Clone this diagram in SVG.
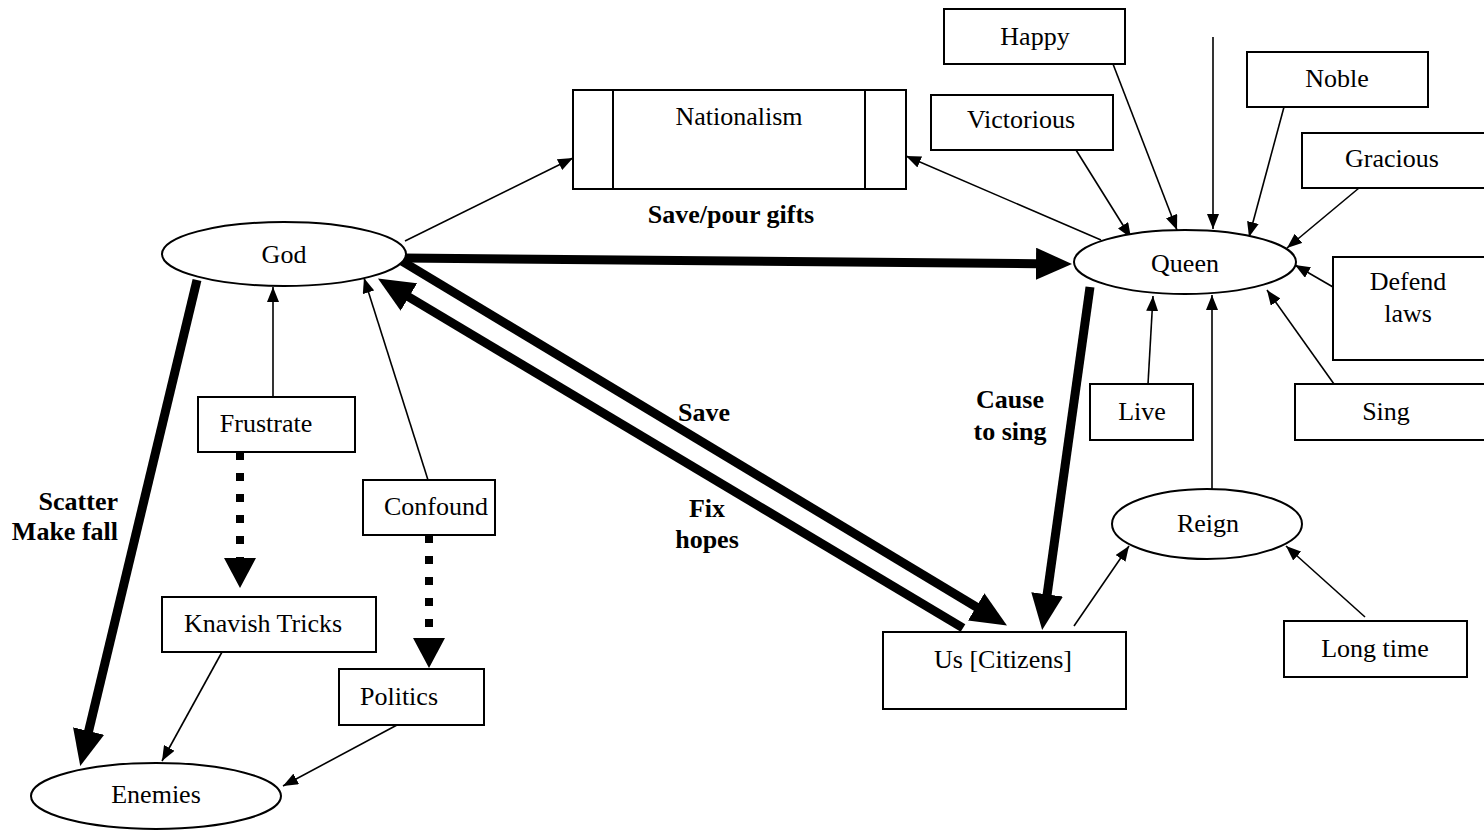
<svg xmlns="http://www.w3.org/2000/svg" width="1484" height="830" viewBox="0 0 1484 830">
<style>
.box{fill:#fff;stroke:#000;stroke-width:2}
.t{font-family:'Liberation Serif','DejaVu Serif',serif;font-size:26px;fill:#000;text-anchor:middle}
.b{font-family:'Liberation Serif','DejaVu Serif',serif;font-size:26px;font-weight:bold;fill:#000;text-anchor:middle}
.e{text-anchor:end}
.thin{stroke:#000;stroke-width:1.6;fill:none;marker-end:url(#ah)}
.thick{stroke:#000;stroke-width:9;fill:none;marker-end:url(#ahb)}
.dot{stroke:#000;stroke-width:8;fill:none;stroke-dasharray:8 13;marker-end:url(#ahd)}
</style>
<defs>
<marker id="ah" markerUnits="userSpaceOnUse" markerWidth="15" markerHeight="12" refX="15" refY="6" orient="auto" viewBox="0 0 15 12"><path d="M0,0 L15,6 L0,12 z" fill="#000"/></marker>
<marker id="ahb" markerUnits="userSpaceOnUse" markerWidth="36" markerHeight="32" refX="1" refY="16" orient="auto" viewBox="0 0 36 32"><path d="M0,0 L36,16 L0,32 z" fill="#000"/></marker>
<marker id="ahd" markerUnits="userSpaceOnUse" markerWidth="30" markerHeight="32" refX="0" refY="16" orient="auto" viewBox="0 0 30 32"><path d="M0,0 L30,16 L0,32 z" fill="#000"/></marker>
</defs>
<rect width="1484" height="830" fill="#fff"/>

<g id="connectors">
<line class="thin" x1="405" y1="241" x2="573" y2="158"/>
<line class="thin" x1="1101" y1="240" x2="906" y2="156"/>
<line class="thin" x1="1076" y1="150" x2="1131" y2="238"/>
<line class="thin" x1="1113" y1="64" x2="1177" y2="230"/>
<line class="thin" x1="1213" y1="37" x2="1213" y2="229"/>
<line class="thin" x1="1284" y1="107" x2="1249" y2="237"/>
<line class="thin" x1="1359" y1="188" x2="1287" y2="248"/>
<line class="thin" x1="1333" y1="287" x2="1295" y2="265"/>
<line class="thin" x1="1334" y1="384" x2="1267" y2="290"/>
<line class="thin" x1="1148" y1="384" x2="1153" y2="296"/>
<line class="thin" x1="1212" y1="489" x2="1212" y2="295"/>
<line class="thin" x1="1365" y1="617" x2="1286" y2="546"/>
<line class="thin" x1="1074" y1="626" x2="1129" y2="546"/>
<line class="thin" x1="273" y1="397" x2="273" y2="287"/>
<line class="thin" x1="428" y1="480" x2="364" y2="278"/>
<line class="thin" x1="222" y1="652" x2="162" y2="761"/>
<line class="thin" x1="397" y1="725" x2="283" y2="786"/>
<line class="thick" x1="403" y1="258" x2="1037" y2="263.7"/>
<line class="thick" x1="400" y1="260" x2="977" y2="607.4"/>
<line class="thick" x1="963" y1="628" x2="408" y2="296.5"/>
<line class="thick" x1="1090" y1="287" x2="1047" y2="595.4"/>
<line class="thick" x1="197" y1="280" x2="88.4" y2="732"/>
<line class="dot" x1="240" y1="452" x2="240" y2="558"/>
<line class="dot" x1="429" y1="535" x2="429" y2="638"/>
</g>

<g id="nationalism"><rect class="box" x="573" y="90" width="333" height="99"/><line x1="613" y1="90" x2="613" y2="189" stroke="#000" stroke-width="2"/><line x1="865" y1="90" x2="865" y2="189" stroke="#000" stroke-width="2"/><text class="t" x="739" y="125">Nationalism</text></g>
<g id="god"><ellipse class="box" cx="284" cy="254" rx="122" ry="32"/><text class="t" x="284" y="263">God</text></g>
<g id="queen"><ellipse class="box" cx="1185" cy="262" rx="111" ry="32"/><text class="t" x="1185" y="272">Queen</text></g>
<g id="happy"><rect class="box" x="944" y="9" width="181" height="55"/><text class="t" x="1035" y="45">Happy</text></g>
<g id="victorious"><rect class="box" x="931" y="95" width="182" height="55"/><text class="t" x="1021" y="128">Victorious</text></g>
<g id="noble"><rect class="box" x="1247" y="52" width="181" height="55"/><text class="t" x="1337" y="87">Noble</text></g>
<g id="gracious"><rect class="box" x="1302" y="133" width="190" height="55"/><text class="t" x="1392" y="167">Gracious</text></g>
<g id="defend"><rect class="box" x="1333" y="257" width="160" height="103"/><text class="t" x="1408" y="290">Defend</text><text class="t" x="1408" y="322">laws</text></g>
<g id="sing"><rect class="box" x="1295" y="384" width="190" height="56"/><text class="t" x="1386" y="420">Sing</text></g>
<g id="live"><rect class="box" x="1090" y="384" width="103" height="56"/><text class="t" x="1142" y="420">Live</text></g>
<g id="reign"><ellipse class="box" cx="1207" cy="524" rx="95" ry="35"/><text class="t" x="1208" y="532">Reign</text></g>
<g id="longtime"><rect class="box" x="1284" y="621" width="183" height="56"/><text class="t" x="1375" y="657">Long time</text></g>
<g id="us"><rect class="box" x="883" y="632" width="243" height="77"/><text class="t" x="1003" y="668">Us [Citizens]</text></g>
<g id="frustrate"><rect class="box" x="198" y="397" width="157" height="55"/><text class="t" x="266" y="432">Frustrate</text></g>
<g id="confound"><rect class="box" x="363" y="480" width="132" height="55"/><text class="t" x="436" y="515">Confound</text></g>
<g id="knavish"><rect class="box" x="162" y="597" width="214" height="55"/><text class="t" x="263" y="632">Knavish Tricks</text></g>
<g id="politics"><rect class="box" x="339" y="669" width="145" height="56"/><text class="t" x="399" y="705">Politics</text></g>
<g id="enemies"><ellipse class="box" cx="156" cy="796" rx="125" ry="33"/><text class="t" x="156" y="803">Enemies</text></g>

<g id="labels">
<text class="b" x="731" y="223">Save/pour gifts</text>
<text class="b e" x="118" y="510">Scatter</text>
<text class="b e" x="118" y="540">Make fall</text>
<text class="b" x="704" y="421">Save</text>
<text class="b" x="707" y="517">Fix</text>
<text class="b" x="707" y="548">hopes</text>
<text class="b" x="1010" y="408">Cause</text>
<text class="b" x="1010" y="440">to sing</text>
</g>
</svg>
